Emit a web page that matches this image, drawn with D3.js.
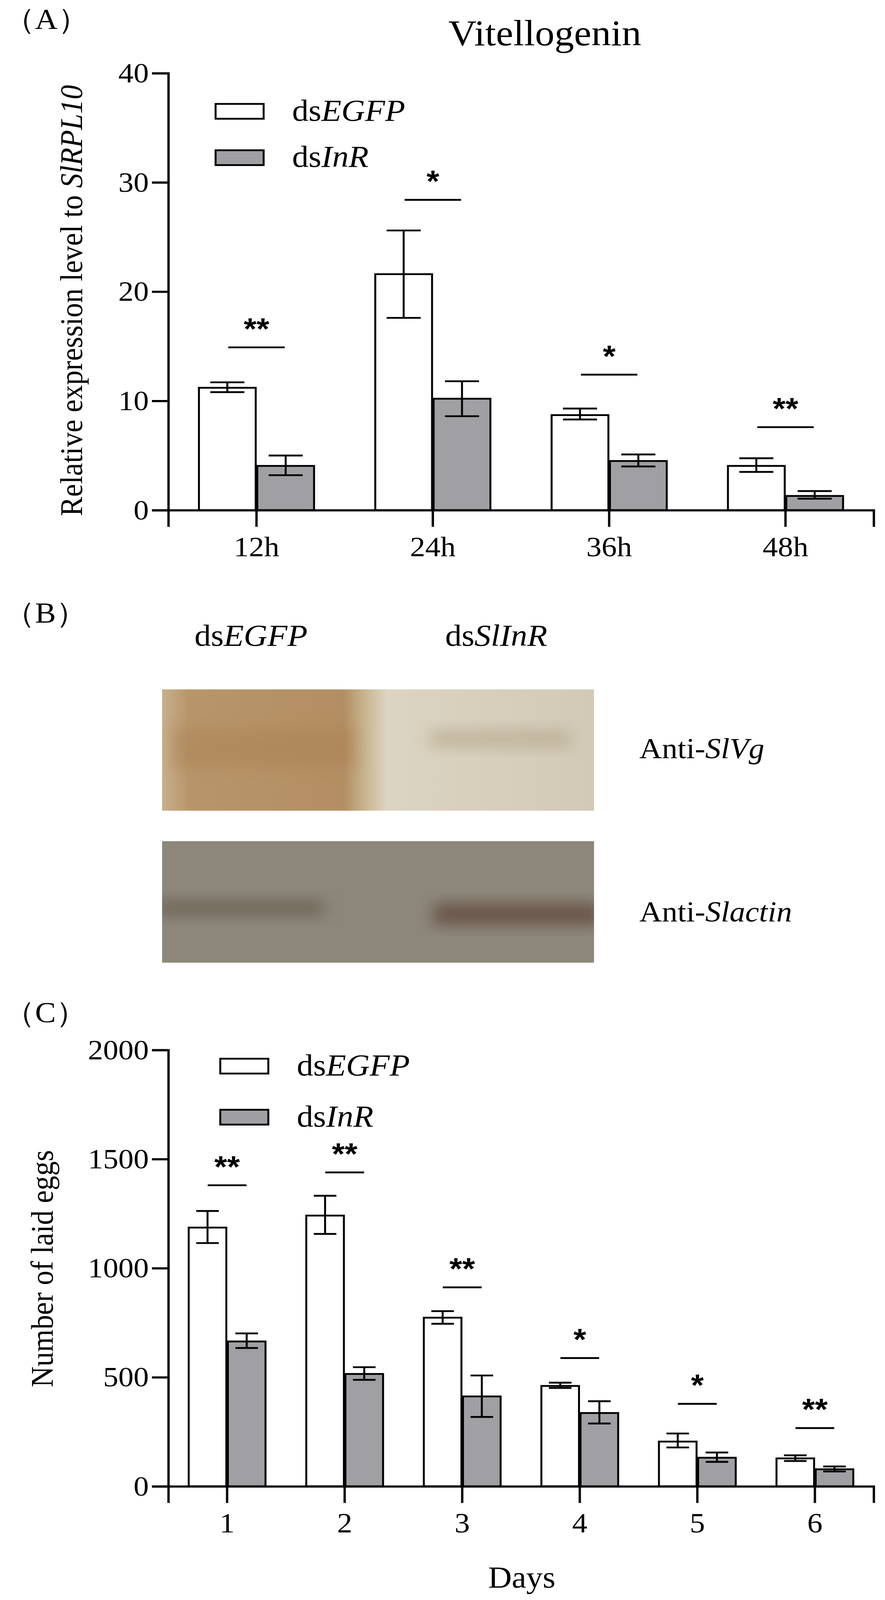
<!DOCTYPE html>
<html><head><meta charset="utf-8">
<script src="https://cdn.jsdelivr.net/npm/d3@7"></script>
<style>html,body{margin:0;padding:0;background:#fff;overflow:hidden}svg{display:block}text{font-family:"Liberation Serif","DejaVu Serif",serif;fill:#000}</style>
</head><body><svg id="c" viewBox="0 0 2266 4419" preserveAspectRatio="none" style="width:100vw;height:100vh"></svg>
<script>
const catsA=["12h","24h","36h","48h"];
const egfpA=[11.2,21.6,8.7,4.05];
const egfpAlo=[10.8,17.6,8.3,3.5];
const egfpAhi=[11.7,25.6,9.3,4.75];
const inrA=[4.05,10.2,4.5,1.3];
const inrAlo=[3.2,8.6,4.0,1.05];
const inrAhi=[5.0,11.8,5.1,1.75];
const sigA=["**","*","*","**"];
const sigAy=[14.9,28.4,12.4,7.6];
const ticksA=[0,10,20,30,40];

const catsC=["1","2","3","4","5","6"];
const egfpC=[1186,1241,773,460,205,128];
const egfpClo=[1115,1157,745,451,178,116];
const egfpChi=[1262,1332,803,475,242,142];
const inrC=[664,515,412,336,131,78];
const inrClo=[634,488,318,288,112,68];
const inrChi=[701,546,508,390,155,91];
const sigC=["**","**","**","*","*","**"];
const sigCy=[1380,1439,912,588,378,267];
const ticksC=[0,500,1000,1500,2000];

const svg=d3.select("#c");
const GRAY="#a0a0a4";

function panel(o){
  const g=svg.append("g");
  const x=d3.scaleBand().domain(o.cats).range([431,2237]);
  const y=d3.scaleLinear().domain([0,o.max]).range([o.y0,o.yTop]);
  const bw=x.bandwidth()*o.bf, lw=x.bandwidth()*o.lf;
  const series=[[o.e,o.elo,o.ehi,"#fff",-1],[o.i,o.ilo,o.ihi,GRAY,0]];
  series.forEach(([v,lo,hi,fill,off])=>{
    o.cats.forEach((c,k)=>{
      const cx=x(c)+x.bandwidth()/2;
      const bx=cx+off*bw+(off<0?-2:2);
      g.append("rect").attr("x",bx).attr("y",y(v[k])).attr("width",bw).attr("height",y(0)-y(v[k]))
        .attr("fill",fill).attr("stroke","#000").attr("stroke-width",5);
      const ex=bx+bw/2, cap=bw*0.3;
      g.append("path").attr("d",`M${ex},${y(lo[k])}V${y(hi[k])}M${ex-cap},${y(lo[k])}H${ex+cap}M${ex-cap},${y(hi[k])}H${ex+cap}`)
        .attr("stroke","#000").attr("stroke-width",5).attr("fill","none");
    });
  });
  o.cats.forEach((c,k)=>{
    const cx=x(c)+x.bandwidth()/2;
    g.append("line").attr("x1",cx-lw/2).attr("x2",cx+lw/2).attr("y1",y(o.sy[k])).attr("y2",y(o.sy[k]))
      .attr("stroke","#000").attr("stroke-width",5);
    g.append("text").attr("x",cx).attr("y",y(o.sy[k])-22).attr("text-anchor","middle")
      .style("font-family","'Liberation Sans',Arial,sans-serif").style("font-weight","bold").style("font-size","84px").text(o.sig[k]);
  });
  const ya=g.append("g").attr("transform","translate(431,0)").call(d3.axisLeft(y).tickValues(o.ticks).tickFormat(d3.format("d")).tickSize(42).tickPadding(8));
  const xa=g.append("g").attr("transform",`translate(0,${o.y0})`).call(d3.axisBottom(x).tickSize(46).tickPadding(26));
  [ya,xa].forEach(a=>{a.select(".domain").attr("stroke-width",6);a.selectAll(".tick line").attr("stroke-width",6);
    a.selectAll("text").style("font-family","'Liberation Serif',serif").style("font-size","78px").attr("fill","#000");});
  [[o.leg[0],"#fff","EGFP"],[o.leg[1],GRAY,"InR"]].forEach(([ly,f,t])=>{
    g.append("rect").attr("x",o.legX).attr("y",ly).attr("width",123).attr("height",41).attr("fill",f).attr("stroke","#000").attr("stroke-width",5);
    const tx=g.append("text").attr("x",o.legX+196).attr("y",ly+46).style("font-size","84px");
    tx.append("tspan").text("ds");tx.append("tspan").style("font-style","italic").text(t);
  });
  return g;
}

panel({cats:catsA,max:40,y0:1409,yTop:202,e:egfpA,elo:egfpAlo,ehi:egfpAhi,i:inrA,ilo:inrAlo,ihi:inrAhi,
  sig:sigA,sy:sigAy,ticks:ticksA,bf:0.322,lf:0.32,leg:[287,415],legX:552});
panel({cats:catsC,max:2000,y0:4105,yTop:2900,e:egfpC,elo:egfpClo,ehi:egfpChi,i:inrC,ilo:inrClo,ihi:inrChi,
  sig:sigC,sy:sigCy,ticks:ticksC,bf:0.32,lf:0.33,leg:[2924,3065],legX:564});

function T(x,y,s,parts,anchor,rot){
  const t=svg.append("text").attr("x",x).attr("y",y).style("font-size",s+"px").attr("text-anchor",anchor||"start");
  if(rot) t.attr("transform",`rotate(-90,${x},${y})`);
  parts.forEach(p=>t.append("tspan").style("font-style",p[1]?"italic":"normal").text(p[0]));
}
T(10,80,80,[["（A）"]]);
T(1395,125,100,[["Vitellogenin"]],"middle");
T(210,830,80,[["Relative expression level to  "],["SlRPL10",1]],"middle",true);
T(10,1720,80,[["（B）"]]);
T(498,1783,84,[["ds"],["EGFP",1]]);
T(1140,1783,84,[["ds"],["SlInR",1]]);
T(1637,2094,80,[["Anti-"],["SlVg",1]]);
T(1637,2545,80,[["Anti-"],["Slactin",1]]);
T(10,2823,80,[["（C）"]]);
T(135,3504,80,[["Number of laid eggs"]],"middle",true);
T(1336,4385,84,[["Days"]],"middle");

const defs=svg.append("defs");
const g1=defs.append("linearGradient").attr("id","b1");
[[0,"#c8b08c"],[0.06,"#b8966a"],[0.42,"#b38e62"],[0.47,"#c9b591"],[0.52,"#dcd4c2"],[1,"#d2c9b6"]].forEach(s=>g1.append("stop").attr("offset",s[0]).attr("stop-color",s[1]));
svg.append("rect").attr("x",415).attr("y",1904).attr("width",1106).attr("height",335).attr("fill","url(#b1)");
defs.append("filter").attr("id","bl").attr("x","-20%").attr("y","-50%").attr("width","140%").attr("height","200%").append("feGaussianBlur").attr("stdDeviation",20);
const clip=defs.append("clipPath").attr("id","cl");
clip.append("rect").attr("x",415).attr("y",1904).attr("width",1106).attr("height",335);
clip.append("rect").attr("x",415).attr("y",2323).attr("width",1106).attr("height",336);
const bl=svg.append("g").attr("clip-path","url(#cl)");
bl.append("rect").attr("x",440).attr("y",2010).attr("width",470).attr("height",110).attr("fill","#a98053").attr("opacity",0.45).attr("filter","url(#bl)");
bl.append("rect").attr("x",1100).attr("y",2015).attr("width",360).attr("height",50).attr("fill","#b3a688").attr("opacity",0.6).attr("filter","url(#bl)");
bl.append("rect").attr("x",415).attr("y",2323).attr("width",1106).attr("height",336).attr("fill","#8d877b");
bl.append("rect").attr("x",400).attr("y",2485).attr("width",430).attr("height",45).attr("fill","#675e50").attr("opacity",0.75).attr("filter","url(#bl)");
bl.append("rect").attr("x",1110).attr("y",2495).attr("width",430).attr("height",60).attr("fill","#654e43").attr("opacity",0.85).attr("filter","url(#bl)");
</script></body></html>
